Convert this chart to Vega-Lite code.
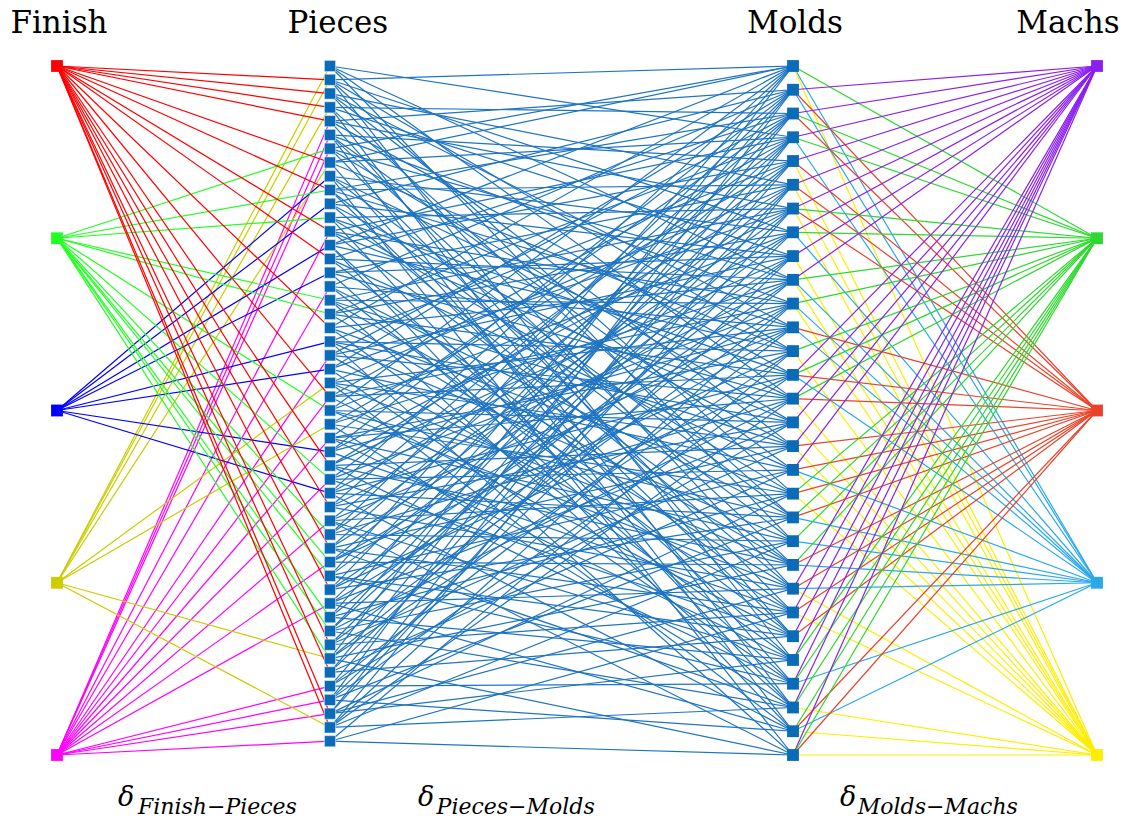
{
"$schema": "https://vega.github.io/schema/vega-lite/v6.json",
"width": 1040, "height": 689,
"autosize": {"type": "none"},
"padding": {"left": 57, "top": 66, "right": 33, "bottom": 67},
"background": "white",
"config": {"view": {"stroke": null}},
"datasets": {
"fp": [
{"a":3,"b":0},{"a":0,"b":1},{"a":3,"b":1},{"a":0,"b":2},{"a":0,"b":3},{"a":3,"b":3},{"a":0,"b":4},{"a":4,"b":4},{"a":4,"b":5},{"a":1,"b":6},{"a":4,"b":6},{"a":0,"b":7},{"a":3,"b":7},{"a":2,"b":8},{"a":0,"b":9},{"a":1,"b":9},{"a":2,"b":10},{"a":1,"b":11},{"a":0,"b":12},{"a":4,"b":12},{"a":2,"b":13},{"a":0,"b":14},{"a":2,"b":15},{"a":4,"b":16},{"a":1,"b":17},{"a":1,"b":18},{"a":0,"b":19},{"a":2,"b":20},{"a":4,"b":21},{"a":2,"b":22},{"a":3,"b":23},{"a":0,"b":24},{"a":4,"b":24},{"a":1,"b":25},{"a":3,"b":26},{"a":4,"b":27},{"a":2,"b":28},{"a":0,"b":29},{"a":1,"b":30},{"a":4,"b":30},{"a":2,"b":31},{"a":0,"b":32},{"a":4,"b":33},{"a":1,"b":34},{"a":0,"b":35},{"a":1,"b":36},{"a":4,"b":36},{"a":1,"b":37},{"a":0,"b":38},{"a":4,"b":39},{"a":1,"b":40},{"a":1,"b":41},{"a":0,"b":42},{"a":3,"b":43},{"a":1,"b":43},{"a":0,"b":44},{"a":4,"b":45},{"a":4,"b":46},{"a":4,"b":47},{"a":0,"b":47},{"a":3,"b":48},{"a":0,"b":48},{"a":4,"b":49}
],
"pm": [
{"a":0,"b":3},{"a":0,"b":9},{"a":0,"b":14},{"a":0,"b":20},
{"a":1,"b":0},{"a":1,"b":7},{"a":1,"b":12},{"a":1,"b":18},{"a":1,"b":25},
{"a":2,"b":5},{"a":2,"b":11},{"a":2,"b":16},{"a":2,"b":22},
{"a":3,"b":2},{"a":3,"b":8},{"a":3,"b":19},{"a":3,"b":27},
{"a":4,"b":1},{"a":4,"b":6},{"a":4,"b":13},{"a":4,"b":24},
{"a":5,"b":4},{"a":5,"b":10},{"a":5,"b":17},{"a":5,"b":21},{"a":5,"b":28},
{"a":6,"b":0},{"a":6,"b":9},{"a":6,"b":15},{"a":6,"b":23},
{"a":7,"b":0},{"a":7,"b":3},{"a":7,"b":12},{"a":7,"b":26},
{"a":8,"b":7},{"a":8,"b":14},{"a":8,"b":19},{"a":8,"b":29},
{"a":9,"b":2},{"a":9,"b":5},{"a":9,"b":11},{"a":9,"b":20},{"a":9,"b":24},
{"a":10,"b":1},{"a":10,"b":8},{"a":10,"b":16},{"a":10,"b":22},
{"a":11,"b":6},{"a":11,"b":13},{"a":11,"b":18},{"a":11,"b":27},
{"a":12,"b":3},{"a":12,"b":10},{"a":12,"b":15},{"a":12,"b":21},
{"a":13,"b":0},{"a":13,"b":4},{"a":13,"b":12},{"a":13,"b":25},{"a":13,"b":28},
{"a":14,"b":2},{"a":14,"b":9},{"a":14,"b":17},{"a":14,"b":23},
{"a":15,"b":5},{"a":15,"b":8},{"a":15,"b":14},{"a":15,"b":26},
{"a":16,"b":1},{"a":16,"b":11},{"a":16,"b":19},{"a":16,"b":24},
{"a":17,"b":6},{"a":17,"b":10},{"a":17,"b":16},{"a":17,"b":21},{"a":17,"b":27},
{"a":18,"b":3},{"a":18,"b":7},{"a":18,"b":13},{"a":18,"b":22},
{"a":19,"b":0},{"a":19,"b":9},{"a":19,"b":18},{"a":19,"b":25},
{"a":20,"b":4},{"a":20,"b":12},{"a":20,"b":15},{"a":20,"b":20},{"a":20,"b":29},
{"a":21,"b":2},{"a":21,"b":8},{"a":21,"b":14},{"a":21,"b":23},
{"a":22,"b":1},{"a":22,"b":6},{"a":22,"b":17},{"a":22,"b":26},
{"a":23,"b":5},{"a":23,"b":11},{"a":23,"b":16},{"a":23,"b":21},{"a":23,"b":28},
{"a":24,"b":3},{"a":24,"b":10},{"a":24,"b":13},{"a":24,"b":24},
{"a":25,"b":0},{"a":25,"b":7},{"a":25,"b":15},{"a":25,"b":19},{"a":25,"b":22},
{"a":26,"b":4},{"a":26,"b":9},{"a":26,"b":18},{"a":26,"b":27},
{"a":27,"b":2},{"a":27,"b":12},{"a":27,"b":14},{"a":27,"b":20},{"a":27,"b":25},
{"a":28,"b":1},{"a":28,"b":6},{"a":28,"b":11},{"a":28,"b":23},
{"a":29,"b":5},{"a":29,"b":8},{"a":29,"b":16},{"a":29,"b":21},{"a":29,"b":26},
{"a":30,"b":3},{"a":30,"b":10},{"a":30,"b":17},{"a":30,"b":24},
{"a":31,"b":0},{"a":31,"b":7},{"a":31,"b":13},{"a":31,"b":19},{"a":31,"b":28},
{"a":32,"b":2},{"a":32,"b":9},{"a":32,"b":15},{"a":32,"b":22},
{"a":33,"b":4},{"a":33,"b":11},{"a":33,"b":18},{"a":33,"b":25},{"a":33,"b":29},
{"a":34,"b":1},{"a":34,"b":6},{"a":34,"b":14},{"a":34,"b":20},
{"a":35,"b":3},{"a":35,"b":8},{"a":35,"b":16},{"a":35,"b":23},{"a":35,"b":27},
{"a":36,"b":5},{"a":36,"b":10},{"a":36,"b":12},{"a":36,"b":21},
{"a":37,"b":0},{"a":37,"b":7},{"a":37,"b":17},{"a":37,"b":24},{"a":37,"b":26},
{"a":38,"b":2},{"a":38,"b":9},{"a":38,"b":13},{"a":38,"b":19},
{"a":39,"b":4},{"a":39,"b":11},{"a":39,"b":15},{"a":39,"b":22},{"a":39,"b":28},
{"a":40,"b":1},{"a":40,"b":8},{"a":40,"b":18},{"a":40,"b":25},
{"a":41,"b":3},{"a":41,"b":6},{"a":41,"b":14},{"a":41,"b":20},{"a":41,"b":27},
{"a":42,"b":5},{"a":42,"b":10},{"a":42,"b":16},{"a":42,"b":23},
{"a":43,"b":0},{"a":43,"b":9},{"a":43,"b":12},{"a":43,"b":21},{"a":43,"b":29},
{"a":44,"b":2},{"a":44,"b":7},{"a":44,"b":17},{"a":44,"b":24},
{"a":45,"b":4},{"a":45,"b":11},{"a":45,"b":15},{"a":45,"b":26},
{"a":46,"b":1},{"a":46,"b":8},{"a":46,"b":13},{"a":46,"b":19},{"a":46,"b":28},
{"a":47,"b":3},{"a":47,"b":6},{"a":47,"b":18},{"a":47,"b":22},{"a":47,"b":25},
{"a":48,"b":5},{"a":48,"b":10},{"a":48,"b":14},{"a":48,"b":20},{"a":48,"b":27},
{"a":49,"b":12},{"a":49,"b":23},{"a":49,"b":29}
],
"mm": [
{"a":0,"b":1},{"a":0,"b":3},{"a":0,"b":4},
{"a":1,"b":0},{"a":1,"b":2},{"a":1,"b":3},
{"a":2,"b":0},{"a":2,"b":1},{"a":2,"b":2},
{"a":3,"b":0},{"a":3,"b":1},{"a":3,"b":3},
{"a":4,"b":0},{"a":4,"b":2},{"a":4,"b":4},
{"a":5,"b":0},{"a":5,"b":2},{"a":5,"b":4},
{"a":6,"b":0},{"a":6,"b":1},{"a":6,"b":2},{"a":6,"b":4},
{"a":7,"b":0},{"a":7,"b":1},{"a":7,"b":3},
{"a":8,"b":0},{"a":8,"b":4},
{"a":9,"b":0},{"a":9,"b":1},{"a":9,"b":3},{"a":9,"b":4},
{"a":10,"b":1},{"a":10,"b":3},{"a":10,"b":4},
{"a":11,"b":2},{"a":11,"b":3},
{"a":12,"b":1},{"a":12,"b":4},
{"a":13,"b":0},{"a":13,"b":1},{"a":13,"b":2},{"a":13,"b":3},
{"a":14,"b":0},{"a":14,"b":1},{"a":14,"b":2},{"a":14,"b":4},
{"a":15,"b":0},{"a":15,"b":4},
{"a":16,"b":0},{"a":16,"b":2},{"a":16,"b":4},
{"a":17,"b":0},{"a":17,"b":2},{"a":17,"b":3},{"a":17,"b":4},
{"a":18,"b":1},{"a":18,"b":2},{"a":18,"b":4},
{"a":19,"b":1},{"a":19,"b":2},{"a":19,"b":3},
{"a":20,"b":1},{"a":20,"b":3},
{"a":21,"b":1},{"a":21,"b":2},{"a":21,"b":3},
{"a":22,"b":0},{"a":22,"b":2},{"a":22,"b":3},{"a":22,"b":4},
{"a":23,"b":0},{"a":23,"b":2},{"a":23,"b":4},
{"a":24,"b":0},{"a":24,"b":2},
{"a":25,"b":0},{"a":25,"b":1},
{"a":26,"b":0},{"a":26,"b":1},{"a":26,"b":3},
{"a":27,"b":0},{"a":27,"b":1},{"a":27,"b":4},
{"a":28,"b":1},{"a":28,"b":2},{"a":28,"b":3},{"a":28,"b":4},
{"a":29,"b":0},{"a":29,"b":1},{"a":29,"b":2},{"a":29,"b":4}
],
"five": [{"i":0},{"i":1},{"i":2},{"i":3},{"i":4}],
"pieces": [{"i":0},{"i":1},{"i":2},{"i":3},{"i":4},{"i":5},{"i":6},{"i":7},{"i":8},{"i":9},{"i":10},{"i":11},{"i":12},{"i":13},{"i":14},{"i":15},{"i":16},{"i":17},{"i":18},{"i":19},{"i":20},{"i":21},{"i":22},{"i":23},{"i":24},{"i":25},{"i":26},{"i":27},{"i":28},{"i":29},{"i":30},{"i":31},{"i":32},{"i":33},{"i":34},{"i":35},{"i":36},{"i":37},{"i":38},{"i":39},{"i":40},{"i":41},{"i":42},{"i":43},{"i":44},{"i":45},{"i":46},{"i":47},{"i":48},{"i":49}],
"molds": [{"i":0},{"i":1},{"i":2},{"i":3},{"i":4},{"i":5},{"i":6},{"i":7},{"i":8},{"i":9},{"i":10},{"i":11},{"i":12},{"i":13},{"i":14},{"i":15},{"i":16},{"i":17},{"i":18},{"i":19},{"i":20},{"i":21},{"i":22},{"i":23},{"i":24},{"i":25},{"i":26},{"i":27},{"i":28},{"i":29}]
},
"layer": [
{
 "data": {"name": "fp"},
 "transform": [{"calculate": "datum.a/4", "as": "y1"}, {"calculate": "datum.b/50", "as": "y2"}],
 "mark": {"type": "rule", "strokeWidth": 1.2},
 "encoding": {
  "x": {"datum": 0, "type": "quantitative", "scale": {"domain": [0, 1]}, "axis": null},
  "x2": {"datum": 0.2625},
  "y": {"field": "y1", "type": "quantitative", "scale": {"domain": [0, 1], "reverse": true}, "axis": null},
  "y2": {"field": "y2"},
  "color": {"field": "a", "type": "nominal", "scale": {"domain": [0, 1, 2, 3, 4], "range": ["#ff0000", "#22ff22", "#0000ff", "#cccc00", "#ff00ff"]}, "legend": null}
 }
},
{
 "data": {"name": "pm"},
 "transform": [{"calculate": "datum.a/50", "as": "y1"}, {"calculate": "datum.b/29", "as": "y2"}],
 "mark": {"type": "rule", "strokeWidth": 1.2, "color": "#1f74c2"},
 "encoding": {
  "x": {"datum": 0.2625, "type": "quantitative", "scale": {"domain": [0, 1]}, "axis": null},
  "x2": {"datum": 0.7077},
  "y": {"field": "y1", "type": "quantitative", "scale": {"domain": [0, 1], "reverse": true}, "axis": null},
  "y2": {"field": "y2"}
 }
},
{
 "data": {"name": "mm"},
 "transform": [{"calculate": "datum.a/29", "as": "y1"}, {"calculate": "datum.b/4", "as": "y2"}],
 "mark": {"type": "rule", "strokeWidth": 1.2},
 "encoding": {
  "x": {"datum": 0.7077, "type": "quantitative", "scale": {"domain": [0, 1]}, "axis": null},
  "x2": {"datum": 1},
  "y": {"field": "y1", "type": "quantitative", "scale": {"domain": [0, 1], "reverse": true}, "axis": null},
  "y2": {"field": "y2"},
  "color": {"field": "b", "type": "nominal", "scale": {"domain": [0, 1, 2, 3, 4], "range": ["#8a1ff0", "#2ed82e", "#e8432a", "#2aa8ea", "#ffee00"]}, "legend": null}
 }
},
{
 "data": {"name": "five"},
 "transform": [{"calculate": "datum.i/4", "as": "y"}],
 "mark": {"type": "point", "shape": "square", "filled": true, "size": 140, "opacity": 1},
 "encoding": {
  "x": {"datum": 0, "type": "quantitative", "scale": {"domain": [0, 1]}, "axis": null},
  "y": {"field": "y", "type": "quantitative", "scale": {"domain": [0, 1], "reverse": true}, "axis": null},
  "color": {"field": "i", "type": "nominal", "scale": {"domain": [0, 1, 2, 3, 4], "range": ["#ff0000", "#22ff22", "#0000ff", "#cccc00", "#ff00ff"]}, "legend": null}
 }
},
{
 "data": {"name": "pieces"},
 "transform": [{"calculate": "datum.i/50", "as": "y"}],
 "mark": {"type": "point", "shape": "square", "filled": true, "size": 125, "opacity": 1, "color": "#0a6bb8", "stroke": "#e8f0f8", "strokeWidth": 0.6},
 "encoding": {
  "x": {"datum": 0.2625, "type": "quantitative", "scale": {"domain": [0, 1]}, "axis": null},
  "y": {"field": "y", "type": "quantitative", "scale": {"domain": [0, 1], "reverse": true}, "axis": null}
 }
},
{
 "data": {"name": "molds"},
 "transform": [{"calculate": "datum.i/29", "as": "y"}],
 "mark": {"type": "point", "shape": "square", "filled": true, "size": 140, "opacity": 1, "color": "#0a6bb8"},
 "encoding": {
  "x": {"datum": 0.7077, "type": "quantitative", "scale": {"domain": [0, 1]}, "axis": null},
  "y": {"field": "y", "type": "quantitative", "scale": {"domain": [0, 1], "reverse": true}, "axis": null}
 }
},
{
 "data": {"name": "five"},
 "transform": [{"calculate": "datum.i/4", "as": "y"}],
 "mark": {"type": "point", "shape": "square", "filled": true, "size": 140, "opacity": 1},
 "encoding": {
  "x": {"datum": 1, "type": "quantitative", "scale": {"domain": [0, 1]}, "axis": null},
  "y": {"field": "y", "type": "quantitative", "scale": {"domain": [0, 1], "reverse": true}, "axis": null},
  "color": {"field": "i", "type": "nominal", "scale": {"domain": [0, 1, 2, 3, 4], "range": ["#8a1ff0", "#2ed82e", "#e8432a", "#2aa8ea", "#ffee00"]}, "legend": null}
 }
},
{
 "data": {"values": [{"t": "Finish", "c": 0.0019}, {"t": "Pieces", "c": 0.27}, {"t": "Molds", "c": 0.7096}, {"t": "Machs", "c": 0.972}]},
 "mark": {"type": "text", "font": "DejaVu Serif", "fontSize": 31, "align": "center", "baseline": "alphabetic", "color": "black"},
 "encoding": {
  "x": {"field": "c", "type": "quantitative", "scale": {"domain": [0, 1]}, "axis": null},
  "y": {"datum": -0.048, "type": "quantitative", "scale": {"domain": [0, 1], "reverse": true}, "axis": null},
  "text": {"field": "t"}
 }
},
{
 "data": {"values": [{"c": 0.0587}, {"c": 0.347}, {"c": 0.753}]},
 "mark": {"type": "text", "font": "DejaVu Serif", "fontSize": 27, "fontStyle": "italic", "align": "left", "baseline": "alphabetic", "color": "black", "text": "δ"},
 "encoding": {
  "x": {"field": "c", "type": "quantitative", "scale": {"domain": [0, 1]}, "axis": null},
  "y": {"datum": 1.074, "type": "quantitative", "scale": {"domain": [0, 1], "reverse": true}, "axis": null}
 }
},
{
 "data": {"values": [{"t": "Finish−Pieces", "c": 0.0779}, {"t": "Pieces−Molds", "c": 0.365}, {"t": "Molds−Machs", "c": 0.770}]},
 "mark": {"type": "text", "font": "DejaVu Serif", "fontSize": 22, "fontStyle": "italic", "align": "left", "baseline": "alphabetic", "color": "black"},
 "encoding": {
  "x": {"field": "c", "type": "quantitative", "scale": {"domain": [0, 1]}, "axis": null},
  "y": {"datum": 1.085, "type": "quantitative", "scale": {"domain": [0, 1], "reverse": true}, "axis": null},
  "text": {"field": "t"}
 }
}
],
"resolve": {"scale": {"color": "independent"}}
}
